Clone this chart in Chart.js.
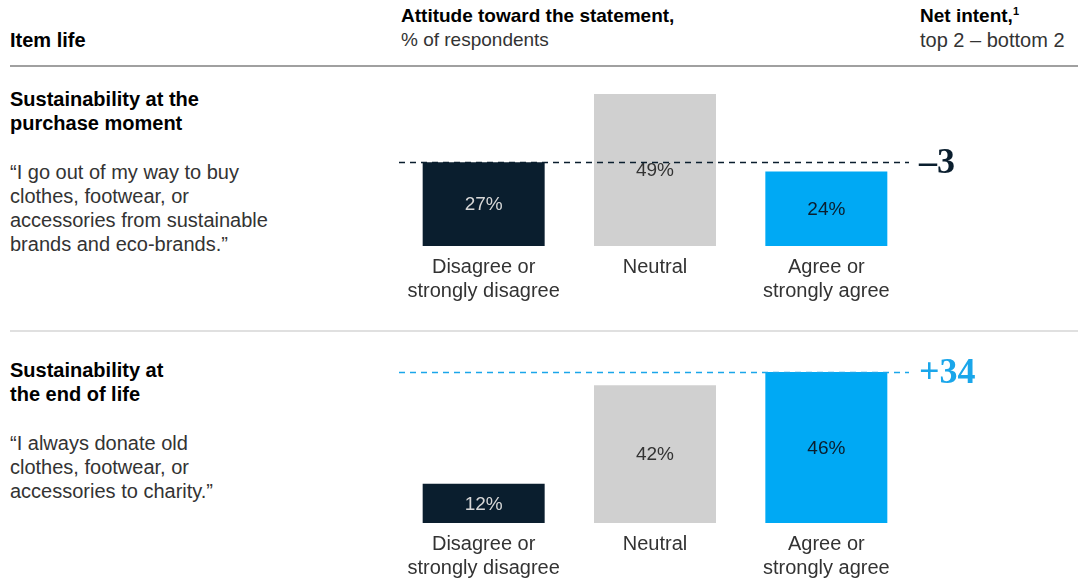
<!DOCTYPE html>
<html>
<head>
<meta charset="utf-8">
<script src="https://cdn.jsdelivr.net/npm/chart.js@4"></script>
<style>
	body { margin: 0; background: #fff; width: 1078px; height: 579px; overflow: hidden; position: relative; font-family: "Liberation Sans", Arial, sans-serif; color: #222; }
	.abs { position: absolute; white-space: nowrap; }
	.head { font-size: 19px; line-height: 24px; }
	.bold { font-weight: bold; color: #000; }
	.rule { position: absolute; left: 10px; right: 0; height: 2px; }
	.title { font-size: 20px; line-height: 24px; font-weight: bold; color: #000; }
	.quote { font-size: 20px; line-height: 24px; color: #333; }
	canvas { position: absolute; }
</style>
</head>
<body>
	<div class="abs head bold" style="left:10px; top:28px; font-size:20px;">Item life</div>
	<div class="abs head" style="left:401px; top:4px;"><span class="bold">Attitude toward the statement,</span><br><span style="color:#333">% of respondents</span></div>
	<div class="abs head" style="left:920px; top:4px;"><span class="bold">Net intent,<sup style="font-size:11px; line-height:0">1</sup></span><br><span style="color:#333; font-size:20px;">top 2 – bottom 2</span></div>
	<div class="rule" style="top:65px; background:#a0a0a0;"></div>

	<div class="abs title" style="left:10px; top:87px;">Sustainability at the<br>purchase moment</div>
	<div class="abs quote" style="left:10px; top:160px;">“I go out of my way to buy<br>clothes, footwear, or<br>accessories from sustainable<br>brands and eco-brands.”</div>

	<div class="rule" style="top:330px; background:#e0e0e0;"></div>

	<div class="abs title" style="left:10px; top:358px;">Sustainability at<br>the end of life</div>
	<div class="abs quote" style="left:10px; top:431px;">“I always donate old<br>clothes, footwear, or<br>accessories to charity.”</div>

	<canvas id="purchaseChart" style="left:390px; top:70px;" width="688" height="240"></canvas>
	<canvas id="endOfLifeChart" style="left:390px; top:340px;" width="688" height="239"></canvas>

<script>
const categories = [["Disagree or", "strongly disagree"], "Neutral", ["Agree or", "strongly agree"]];
const purchaseValues = [27, 49, 24];
const endOfLifeValues = [12, 42, 46];

const barColors = ["#0a1e2e", "#d0d0d0", "#00a9f4"];
const valueColors = ["#d8d8d8", "#333333", "#0a1e2e"];

// value inside each bar + dashed net-intent line with its label
const netIntentPlugin = {
	id: "netIntent",
	afterDatasetsDraw(chart, args, opts) {
		const ctx = chart.ctx;
		const meta = chart.getDatasetMeta(0);
		const values = chart.data.datasets[0].data;

		ctx.save();
		ctx.font = "19px 'Liberation Sans', Arial, sans-serif";
		ctx.textAlign = "center";
		ctx.textBaseline = "middle";
		meta.data.forEach((bar, i) => {
			ctx.fillStyle = valueColors[i];
			ctx.fillText(values[i] + "%", bar.x, (bar.y + bar.base) / 2 + 1);
		});

		const net = values[2] - values[0];
		const refValue = Math.max(values[0], values[2]);
		const y = Math.round(chart.scales.y.getPixelForValue(refValue)) + 0.5;
		const area = chart.chartArea;

		ctx.strokeStyle = opts.color;
		ctx.lineWidth = 1.5;
		ctx.setLineDash([6, 5]);
		ctx.beginPath();
		ctx.moveTo(area.left + 1, y);
		ctx.lineTo(area.right - 3, y);
		ctx.stroke();

		ctx.setLineDash([]);
		ctx.fillStyle = opts.color;
		ctx.font = "bold 36px 'Liberation Serif', 'DejaVu Serif', serif";
		ctx.textAlign = "left";
		ctx.textBaseline = "middle";
		const text = (net > 0 ? "+" : "\u2013") + Math.abs(net);
		ctx.fillText(text, area.right + 7, y + 1);
		ctx.restore();
	}
};

function drawPanel(canvasId, values, padTop, scaleHeight, lineColor) {
	new Chart(canvasId, {
		type: "bar",
		data: {
			labels: categories,
			datasets: [{
				data: values,
				backgroundColor: barColors,
				barPercentage: 0.712,
				categoryPercentage: 1,
			}],
		},
		options: {
			responsive: false,
			animation: false,
			events: [],
			layout: { padding: { left: 8, right: 166, top: padTop, bottom: 0 } },
			plugins: {
				legend: { display: false },
				tooltip: { enabled: false },
				netIntent: { color: lineColor },
			},
			scales: {
				x: {
					grid: { display: false, drawTicks: false },
					border: { display: false },
					ticks: {
						color: "#333",
						padding: 9,
						font: { family: "'Liberation Sans', Arial, sans-serif", size: 20, lineHeight: 1.2 },
						maxRotation: 0,
						autoSkip: false,
					},
					afterFit: (scale) => { scale.height = scaleHeight; },
				},
				y: {
					display: false,
					min: 0,
					max: 50,
				},
			},
		},
		plugins: [netIntentPlugin],
	});
}

drawPanel("purchaseChart", purchaseValues, 21, 64, "#0a1e2e");
drawPanel("endOfLifeChart", endOfLifeValues, 19, 56, "#1aa6ea");
</script>
</body>
</html>
